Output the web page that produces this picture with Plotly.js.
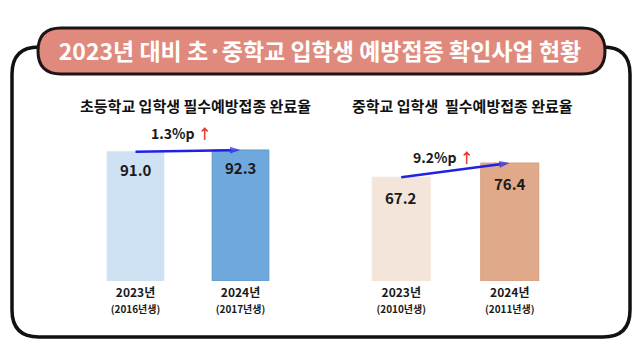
<!DOCTYPE html>
<html>
<head>
<meta charset="utf-8">
<script src="https://cdn.plot.ly/plotly-3.0.1.min.js"></script>
<style>html,body{margin:0;padding:0;background:#fff;}#chart{width:640px;height:360px;}</style>
</head>
<body>
<div id="chart"></div>
<script>
// ---- data ----
const mainTitle = '2023년 대비 초·중학교 입학생 예방접종 확인사업 현황';
const elemTitle = '초등학교 입학생 필수예방접종 완료율';
const midTitle = '중학교 입학생  필수예방접종 완료율';
const years = ['2023년', '2024년'];
const elemCohorts = ['(2016년생)', '(2017년생)'];
const midCohorts = ['(2010년생)', '(2011년생)'];
const elemRates = [91.0, 92.3];
const midRates = [67.2, 76.4];
const elemChange = '1.3%p';
const midChange = '9.2%p';

// ---- helpers (pixel -> paper) ----
const W = 640, H = 360;
const X = px => px / W;
const Y = py => 1 - py / H;
function roundRect(x0, y0, x1, y1, r) {
  return `M ${X(x0 + r)},${Y(y0)} L ${X(x1 - r)},${Y(y0)} Q ${X(x1)},${Y(y0)} ${X(x1)},${Y(y0 + r)} ` +
         `L ${X(x1)},${Y(y1 - r)} Q ${X(x1)},${Y(y1)} ${X(x1 - r)},${Y(y1)} ` +
         `L ${X(x0 + r)},${Y(y1)} Q ${X(x0)},${Y(y1)} ${X(x0)},${Y(y1 - r)} ` +
         `L ${X(x0)},${Y(y0 + r)} Q ${X(x0)},${Y(y0)} ${X(x0 + r)},${Y(y0)} Z`;
}
const FONT = '"Noto Sans CJK KR", "Noto Sans", sans-serif';
const BLUE = '#2121e6';
const tickText = (ys, cs) => ys.map((y, i) =>
  `<b>${y}</b><br><span style="font-size:10px"><b>${cs[i]}</b></span>`);

const trendArrow = (ys, xa, ya) => ({
  type: 'scatter', mode: 'lines+markers', x: years, y: ys, xaxis: xa, yaxis: ya,
  line: {color: BLUE, width: 2.5},
  marker: {symbol: ['circle', 'arrow'], size: [0, 11], angleref: 'previous', standoff: 0,
           color: BLUE, line: {width: 0}},
  cliponaxis: false, hoverinfo: 'skip'
});

const traces = [
  {type: 'bar', x: years, y: elemRates, xaxis: 'x', yaxis: 'y',
   marker: {color: ['#cfe2f3', '#6fa8dc'], line: {color: ['#cfe2f3', '#5f9bd0'], width: 1}},
   width: 0.54, hoverinfo: 'skip'},
  {type: 'bar', x: years, y: midRates, xaxis: 'x2', yaxis: 'y2',
   marker: {color: ['#f3e5da', '#dfa98a'], line: {color: ['#f3e5da', '#d89f80'], width: 1}},
   width: 0.535, hoverinfo: 'skip'},
  trendArrow(elemRates, 'x', 'y'),
  trendArrow(midRates, 'x2', 'y2')
];

const axBase = {type: 'category', showgrid: false, zeroline: false, showline: false,
  ticks: '', ticklabelstandoff: 3, tickfont: {family: FONT, size: 12, color: '#1a1a1a'}, fixedrange: true};
const yBase = {visible: false, showgrid: false, zeroline: false, fixedrange: true};

const annotations = [];
// value labels
elemRates.forEach((v, i) => annotations.push({xref: 'x', yref: 'y', x: years[i], y: v,
  text: `<b>${v.toFixed(1)}</b>`, showarrow: false, xanchor: 'center', yanchor: 'top', yshift: -5,
  font: {family: FONT, size: 15, color: '#1a1a1a'}}));
midRates.forEach((v, i) => annotations.push({xref: 'x2', yref: 'y2', x: years[i], y: v,
  text: `<b>${v.toFixed(1)}</b>`, showarrow: false, xanchor: 'center', yanchor: 'top', yshift: -8,
  font: {family: FONT, size: 15, color: '#1a1a1a'}}));
// change labels
annotations.push({xref: 'paper', yref: 'paper', x: X(181), y: Y(133), xanchor: 'center', yanchor: 'middle',
  text: `<b>${elemChange} <span style="color:#e8302a">↑</span></b>`, showarrow: false,
  font: {family: FONT, size: 14, color: '#1a1a1a'}});
annotations.push({xref: 'paper', yref: 'paper', x: X(443), y: Y(157), xanchor: 'center', yanchor: 'middle',
  text: `<b>${midChange} <span style="color:#e8302a">↑</span></b>`, showarrow: false,
  font: {family: FONT, size: 14, color: '#1a1a1a'}});
// subtitles
annotations.push({xref: 'paper', yref: 'paper', x: X(195), y: Y(105), xanchor: 'center', yanchor: 'middle',
  text: `<b>${elemTitle}</b>`, showarrow: false, font: {family: FONT, size: 15, color: '#111'}});
annotations.push({xref: 'paper', yref: 'paper', x: X(462), y: Y(105), xanchor: 'center', yanchor: 'middle',
  text: `<b>${midTitle}</b>`, showarrow: false, font: {family: FONT, size: 15, color: '#111'}});

const layout = {
  width: W, height: H,
  margin: {l: 0, r: 0, t: 0, b: 0},
  paper_bgcolor: '#ffffff', plot_bgcolor: 'rgba(0,0,0,0)',
  showlegend: false,
  title: {text: `<b>${mainTitle}</b>`, x: 0.5, xanchor: 'center', y: Y(52), yanchor: 'middle',
          font: {family: FONT, size: 23, color: '#ffffff'}},
  xaxis: Object.assign({}, axBase, {domain: [X(83), X(293)], range: [-0.5, 1.5],
    tickvals: years, ticktext: tickText(years, elemCohorts), anchor: 'y'}),
  yaxis: Object.assign({}, yBase, {domain: [Y(281), Y(100)], range: [0, 127.5], anchor: 'x'}),
  xaxis2: Object.assign({}, axBase, {domain: [X(347), X(564)], range: [-0.5, 1.5],
    tickvals: years, ticktext: tickText(years, midCohorts), anchor: 'y2'}),
  yaxis2: Object.assign({}, yBase, {domain: [Y(281), Y(100)], range: [0, 117.2], anchor: 'x2'}),
  shapes: [
    {type: 'path', xref: 'paper', yref: 'paper', path: roundRect(12, 47, 630, 337, 27),
     line: {color: '#111', width: 3.5}, fillcolor: 'rgba(0,0,0,0)', layer: 'below'},
    {type: 'path', xref: 'paper', yref: 'paper', path: roundRect(38, 28, 605, 74, 23),
     line: {color: '#1e1414', width: 3}, fillcolor: '#e08a7e', layer: 'below'}
  ],
  annotations: annotations
};

Plotly.newPlot('chart', traces, layout, {displayModeBar: false, staticPlot: true});
</script>
</body>
</html>
